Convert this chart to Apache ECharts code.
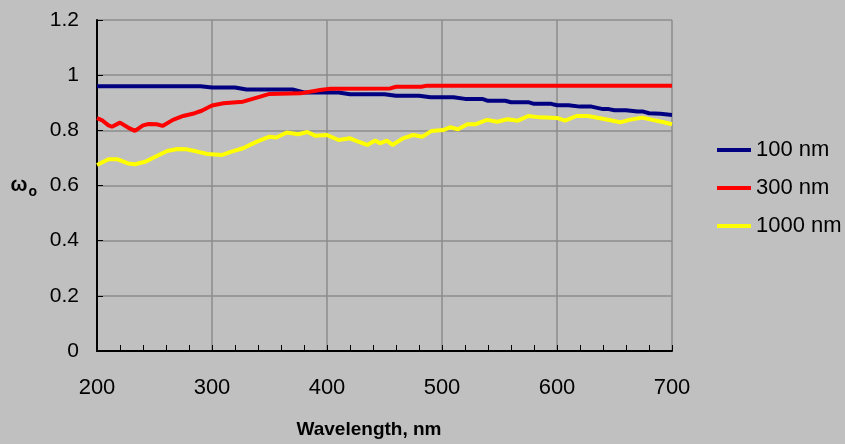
<!DOCTYPE html>
<html>
<head>
<meta charset="utf-8">
<script src="https://cdn.jsdelivr.net/npm/echarts@6/dist/echarts.min.js"></script>
<style>
  html, body { margin: 0; padding: 0; background: #c0c0c0; }
  #chart { width: 845px; height: 444px; }
</style>
</head>
<body>
<div id="chart"></div>
<script>
// Single-scattering albedo vs wavelength for three particle sizes
const seriesNames = ['100 nm', '300 nm', '1000 nm'];

const wl100 = [200, 290, 300, 320, 330, 370, 380, 410, 420, 450, 460, 480, 490, 510, 520, 535, 540, 555, 560, 575, 580, 595, 600, 610, 620, 630, 640, 645, 650, 660, 670, 675, 680, 690, 700];
const albedo100 = [0.960, 0.960, 0.955, 0.955, 0.948, 0.948, 0.937, 0.937, 0.931, 0.931, 0.925, 0.925, 0.920, 0.920, 0.914, 0.914, 0.907, 0.907, 0.902, 0.902, 0.896, 0.896, 0.891, 0.891, 0.886, 0.886, 0.877, 0.877, 0.873, 0.873, 0.868, 0.868, 0.862, 0.860, 0.856];

const wl300 = [200, 205, 210, 213, 220, 227, 233, 240, 245, 252, 257, 266, 275, 285, 291, 300, 310, 327, 342, 350, 377, 394, 403, 455, 460, 482, 487, 700];
const albedo300 = [0.844, 0.835, 0.818, 0.813, 0.828, 0.810, 0.798, 0.818, 0.823, 0.822, 0.816, 0.838, 0.852, 0.862, 0.871, 0.890, 0.898, 0.904, 0.922, 0.932, 0.934, 0.946, 0.951, 0.952, 0.958, 0.958, 0.962, 0.962];

const wl1000 = [200, 210, 218, 227, 233, 242, 252, 261, 270, 278, 287, 296, 309, 317, 327, 339, 350, 356, 365, 375, 383, 390, 400, 410, 420, 426, 435, 442, 446, 452, 457, 466, 475, 483, 491, 501, 507, 514, 522, 529, 539, 548, 557, 566, 575, 585, 600, 607, 617, 627, 642, 655, 663, 674, 683, 691, 700];
const albedo1000 = [0.674, 0.695, 0.695, 0.680, 0.677, 0.686, 0.707, 0.725, 0.732, 0.731, 0.723, 0.714, 0.711, 0.723, 0.735, 0.759, 0.777, 0.774, 0.792, 0.786, 0.794, 0.780, 0.783, 0.765, 0.771, 0.761, 0.747, 0.763, 0.753, 0.763, 0.747, 0.771, 0.783, 0.777, 0.798, 0.801, 0.811, 0.804, 0.822, 0.822, 0.838, 0.831, 0.840, 0.835, 0.852, 0.847, 0.845, 0.835, 0.852, 0.852, 0.840, 0.829, 0.838, 0.846, 0.838, 0.831, 0.822];

const colors = ['#000080', '#ff0000', '#ffff00'];

function pairs(xs, ys) { return xs.map((x, i) => [x, ys[i]]); }

const FONT = '"Liberation Sans", Arial, sans-serif';

const chart = echarts.init(document.getElementById('chart'), null, { renderer: 'canvas' });

chart.setOption({
  backgroundColor: '#c0c0c0',
  animation: false,
  textStyle: { fontFamily: FONT },
  grid: { left: 97, right: 173, top: 20, bottom: 93, containLabel: false },
  legend: {
    orient: 'vertical',
    left: 712,
    top: 134,
    itemWidth: 34,
    itemHeight: 4,
    itemGap: 16,
    itemTextGap: 8,
    icon: 'rect',
    data: seriesNames,
    textStyle: { fontFamily: FONT, fontSize: 22, color: '#000' }
  },
  xAxis: {
    type: 'value',
    min: 200, max: 700, interval: 100,
    name: 'Wavelength, nm',
    nameLocation: 'middle',
    nameGap: 69,
    nameTextStyle: { fontFamily: FONT, fontSize: 19, fontWeight: 'bold', color: '#000', padding: [0, 31, 0, 0] },
    axisLine: { show: true, onZero: false, lineStyle: { color: '#000', width: 2 } },
    axisTick: { show: true, inside: true, length: 6, lineStyle: { color: '#000' } },
    minorTick: { show: true, splitNumber: 5, length: 6, lineStyle: { color: '#000' } },
    axisLabel: { fontFamily: FONT, fontSize: 22, color: '#000', margin: 26 },
    splitLine: { show: true, lineStyle: { color: '#8c8c8c', width: 1.5 } }
  },
  yAxis: {
    type: 'value',
    min: 0, max: 1.2, interval: 0.2,
    name: '{w|ω}{s|o}',
    nameLocation: 'middle',
    nameRotate: 0,
    nameGap: 60,
    nameTextStyle: {
      rich: {
        w: { fontFamily: FONT, fontSize: 20, fontWeight: 'bold', color: '#000', lineHeight: 20 },
        s: { fontFamily: FONT, fontSize: 14, fontWeight: 'bold', color: '#000', padding: [14, 0, 0, 1] }
      }
    },
    axisLine: { show: true, lineStyle: { color: '#000', width: 2 } },
    axisTick: { show: true, inside: true, length: 6, lineStyle: { color: '#000' } },
    axisLabel: { fontFamily: FONT, fontSize: 21, color: '#000', margin: 18 },
    splitLine: { show: true, lineStyle: { color: '#8c8c8c', width: 1.5 } }
  },
  series: [
    { name: seriesNames[0], type: 'line', data: pairs(wl100, albedo100), showSymbol: false, symbol: 'none', lineStyle: { width: 4, color: colors[0] }, itemStyle: { color: colors[0] } },
    { name: seriesNames[1], type: 'line', data: pairs(wl300, albedo300), showSymbol: false, symbol: 'none', lineStyle: { width: 4, color: colors[1] }, itemStyle: { color: colors[1] } },
    { name: seriesNames[2], type: 'line', data: pairs(wl1000, albedo1000), showSymbol: false, symbol: 'none', lineStyle: { width: 4, color: colors[2] }, itemStyle: { color: colors[2] } }
  ]
});
</script>
</body>
</html>
